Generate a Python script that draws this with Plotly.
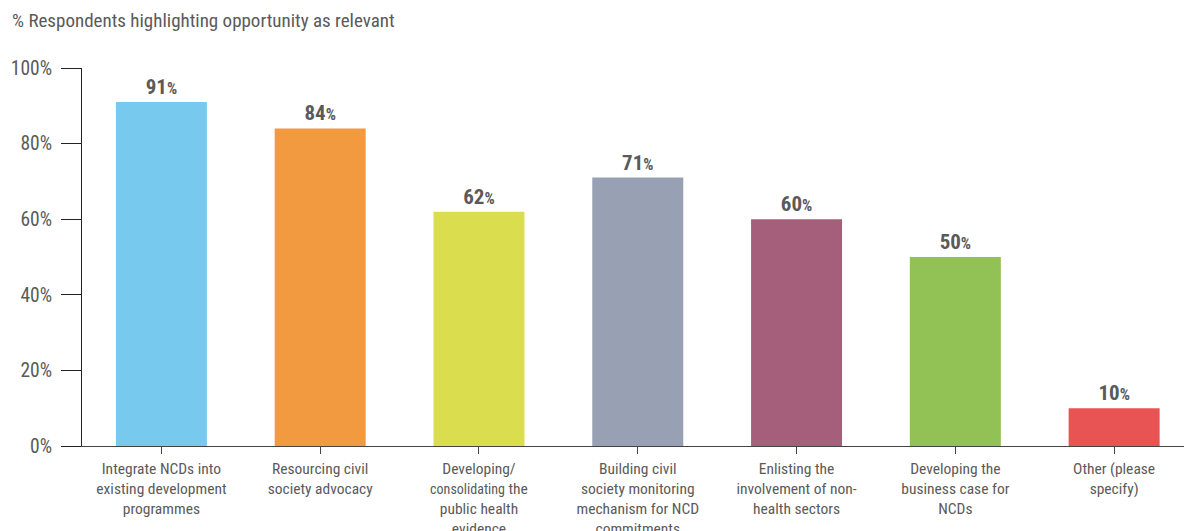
import plotly.graph_objects as go

# Survey results: share of respondents naming each opportunity as relevant
categories = [
    "Integrate NCDs into<br>existing development<br>programmes",
    "Resourcing civil<br>society advocacy",
    "Developing/<br><span style='font-size:14px'>consolidating</span> the<br>public health<br>evidence",
    "Building civil<br>society monitoring<br>mechanism for NCD<br>commitments",
    "Enlisting the<br>involvement of non-<br>health sectors",
    "Developing the<br>business case for<br>NCDs",
    "Other (please<br>specify)",
]
values = [91, 84, 62, 71, 60, 50, 10]
bar_colors = ["#78C9EE", "#F29A3F", "#DADD4D", "#97A1B3", "#A55F7A", "#92C155", "#E85454"]
y_ticks = [0, 20, 40, 60, 80, 100]
y_tick_labels = [f"{v}%" for v in y_ticks]

FONT = "Liberation Sans Narrow, Roboto Condensed, DejaVu Sans Condensed, Arial Narrow, sans-serif"
TEXT_GREY = "#5a5a5a"

fig = go.Figure(
    go.Bar(
        x=list(range(len(categories))),
        y=values,
        marker=dict(color=bar_colors, line=dict(width=0)),
        width=0.573,
        text=[str(v) for v in values],
        texttemplate="<b>%{text}</b><span style='font-size:16px'><b>%</b></span>",
        textposition="outside",
        textfont=dict(family=FONT, size=21, color=TEXT_GREY),
        cliponaxis=False,
        hoverinfo="skip",
    )
)

fig.update_layout(
    width=1184,
    height=531,
    margin=dict(l=82, r=0, t=68, b=85, autoexpand=False),
    paper_bgcolor="white",
    plot_bgcolor="white",
    showlegend=False,
    font=dict(family=FONT, color=TEXT_GREY),
    title=dict(
        text="% Respondents highlighting opportunity as relevant",
        xref="container", yref="container",
        x=12 / 1184, y=1 - 20 / 531,
        xanchor="left", yanchor="middle",
        font=dict(family=FONT, size=19, color=TEXT_GREY),
    ),
)

fig.update_xaxes(
    automargin=False,
    tickmode="array",
    tickvals=list(range(len(categories))),
    ticktext=categories,
    range=[-0.5, 6.44],
    tickson="boundaries",
    ticks="outside",
    ticklen=7,
    tickwidth=1.2,
    tickcolor="#444",
    showline=True,
    linecolor="#444",
    linewidth=1.2,
    showgrid=False,
    zeroline=False,
    tickangle=0,
    ticklabelstandoff=1,
    tickfont=dict(family=FONT, size=15.5, color=TEXT_GREY),
)

fig.update_yaxes(
    automargin=False,
    range=[0, 100],
    tickmode="array",
    tickvals=y_ticks,
    ticktext=y_tick_labels,
    ticks="outside",
    ticklen=20,
    tickwidth=1.2,
    tickcolor="#222",
    showline=True,
    linecolor="#222",
    linewidth=1.2,
    showgrid=False,
    zeroline=False,
    ticklabelstandoff=5,
    tickfont=dict(family=FONT, size=19.5, color=TEXT_GREY),
)

fig.write_html("out.html")
